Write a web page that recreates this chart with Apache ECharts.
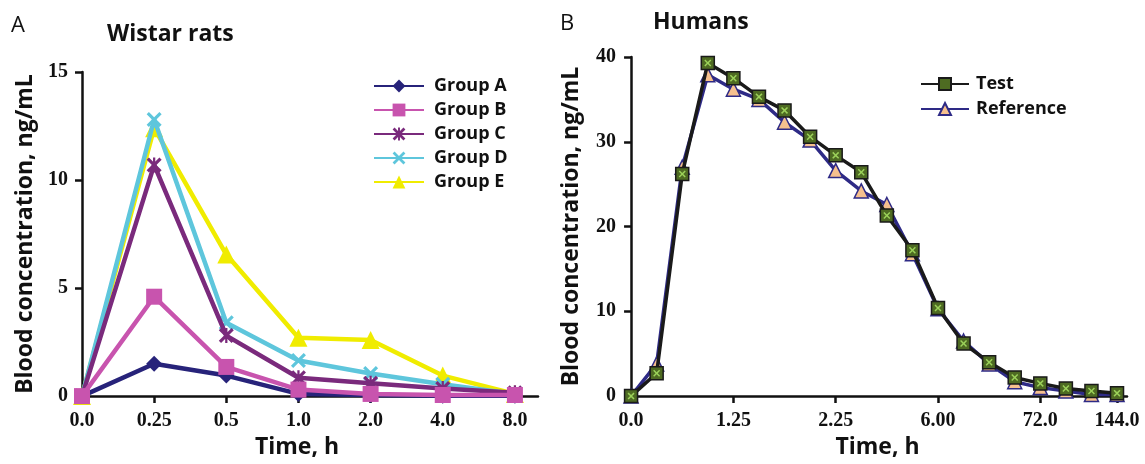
<!DOCTYPE html>
<html><head><meta charset="utf-8">
<script src="https://cdn.jsdelivr.net/npm/echarts@6/dist/echarts.min.js"></script>
<style>html,body{margin:0;padding:0;background:#fff}#c{width:1145px;height:464px}</style>
</head><body><div id="c"></div>
<script>
// ---- Panel A data (Wistar rats) ----
const ratTimeLabels = ['0.0','0.25','0.5','1.0','2.0','4.0','8.0'];
const groupA = [0, 1.5, 0.95, 0.1, 0.05, 0.02, 0.02];
const groupB = [0, 4.6, 1.35, 0.3, 0.1, 0.05, 0.05];
const groupC = [0, 10.7, 2.8, 0.85, 0.6, 0.35, 0.15];
const groupD = [0, 12.8, 3.4, 1.65, 1.05, 0.55, 0.1];
const groupE = [0, 12.4, 6.55, 2.7, 2.6, 0.95, 0.1];
// ---- Panel B data (Humans) ----
const humanTickIndex = [0, 4, 8, 12, 16, 19];
const humanTickLabels = ['0.0','1.25','2.25','6.00','72.0','144.0'];
const testConc = [0, 2.7, 26.2, 39.3, 37.5, 35.3, 33.7, 30.6, 28.4, 26.4, 21.3, 17.2, 10.4, 6.2, 4.0, 2.2, 1.5, 0.9, 0.6, 0.35];
const refConc  = [0, 3.8, 27.0, 37.9, 36.2, 35.0, 32.3, 30.2, 26.6, 24.2, 22.6, 16.8, 10.3, 6.5, 3.8, 1.7, 1.0, 0.6, 0.2, 0.2];

const idx = a => a.map((v, i) => [i, v]);
const FONT = '"Open Sans", "Noto Sans", sans-serif';
const NUMFONT = '"Liberation Serif", "DejaVu Serif", serif';
const X_PATH = 'path://M0,3 L3,0 L10,7 L17,0 L20,3 L13,10 L20,17 L17,20 L10,13 L3,20 L0,17 L7,10 Z';
const AST_PATH = 'path://M0,3 L3,0 L10,7 L17,0 L20,3 L13,10 L20,17 L17,20 L10,13 L3,20 L0,17 L7,10 Z M8.5,0 L11.5,0 L11.5,20 L8.5,20 Z';

const axisLine = {show: true, lineStyle: {color: '#111', width: 2.5}};
const axisTick = {show: true, inside: false, length: 7, lineStyle: {color: '#111', width: 2.5}};
const lblStyle = {color: '#111', fontFamily: NUMFONT, fontWeight: 'bold', fontSize: 20};
const nameStyle = {color: '#111', fontFamily: FONT, fontWeight: 'bold', fontSize: 23};

const ratSeries = (name, data, color, symbol, size, z) => ({
  name, type: 'line', xAxisIndex: 0, yAxisIndex: 0, data: idx(data),
  symbol, symbolSize: size, z,
  lineStyle: {color, width: 4.5}, itemStyle: {color},
});

const chart = echarts.init(document.getElementById('c'));
chart.setOption({
  animation: false,
  backgroundColor: '#fff',
  title: [
    {text: 'A', left: 11, top: 15, padding: 0, textStyle: {fontFamily: FONT, fontWeight: 'normal', fontSize: 22, color: '#111'}},
    {text: 'Wistar rats', left: 107, top: 23, padding: 0, textStyle: {fontFamily: FONT, fontWeight: 'bold', fontSize: 23, color: '#111'}},
    {text: 'B', left: 560, top: 13, padding: 0, textStyle: {fontFamily: FONT, fontWeight: 'normal', fontSize: 22, color: '#111'}},
    {text: 'Humans', left: 653, top: 11, padding: 0, textStyle: {fontFamily: FONT, fontWeight: 'bold', fontSize: 23, color: '#111'}}
  ],
  legend: [
    {data: ['Group A','Group B','Group C','Group D','Group E'], orient: 'vertical', left: 373, top: 76, padding: 0,
     itemWidth: 50, itemHeight: 16, itemGap: 4,
     textStyle: {fontFamily: FONT, fontWeight: 'bold', fontSize: 18, lineHeight: 20, color: '#111', padding: [0, 0, 0, 5]}},
    {data: ['Test','Reference'], orient: 'vertical', left: 920, top: 74, padding: 0,
     itemWidth: 48, itemHeight: 15, itemGap: 5,
     textStyle: {fontFamily: FONT, fontWeight: 'bold', fontSize: 18, lineHeight: 20, color: '#111', padding: [0, 0, 0, 2]}}
  ],
  grid: [
    {left: 82, top: 72, width: 456, height: 331},
    {left: 628, top: 57, width: 499, height: 345}
  ],
  xAxis: [
    {type: 'value', gridIndex: 0, min: 0, max: 6.32, splitLine: {show: false},
     name: 'Time, h', nameLocation: 'middle', nameGap: 36,
     nameTextStyle: Object.assign({padding: [0, 26, 0, 0]}, nameStyle),
     axisLine, axisTick: Object.assign({customValues: [0,1,2,3,4,5,6]}, axisTick),
     axisLabel: Object.assign({customValues: [0,1,2,3,4,5,6], margin: 15,
       formatter: v => ratTimeLabels[Math.round(v)]}, lblStyle)},
    {type: 'value', gridIndex: 1, min: -0.12, max: 19.39, splitLine: {show: false},
     name: 'Time, h', nameLocation: 'middle', nameGap: 35, nameTextStyle: nameStyle,
     axisLine, axisTick: Object.assign({customValues: humanTickIndex}, axisTick),
     axisLabel: Object.assign({customValues: humanTickIndex, margin: 15,
       formatter: v => humanTickLabels[humanTickIndex.indexOf(Math.round(v))]}, lblStyle)}
  ],
  yAxis: [
    {type: 'value', gridIndex: 0, min: 0, max: 15, interval: 5, splitLine: {show: false},
     name: 'Blood concentration, ng/mL', nameLocation: 'middle', nameGap: 45, nameTextStyle: nameStyle,
     axisLine, axisTick, axisLabel: Object.assign({margin: 14}, lblStyle)},
    {type: 'value', gridIndex: 1, min: 0, max: 40, interval: 10, splitLine: {show: false},
     name: 'Blood concentration, ng/mL', nameLocation: 'middle', nameGap: 45, nameTextStyle: nameStyle,
     axisLine, axisTick, axisLabel: Object.assign({margin: 12}, lblStyle)}
  ],
  series: [
    ratSeries('Group E', groupE, '#F0EC00', 'triangle', 18, 2),
    ratSeries('Group D', groupD, '#5EC6DC', X_PATH, 15, 3),
    ratSeries('Group C', groupC, '#7A2A7C', AST_PATH, 15, 4),
    ratSeries('Group A', groupA, '#27237A', 'diamond', 16, 5),
    ratSeries('Group B', groupB, '#C854AE', 'rect', 16, 6),
    {name: 'Reference', type: 'line', xAxisIndex: 1, yAxisIndex: 1, data: idx(refConc),
     symbol: 'triangle', symbolSize: 14, z: 3,
     lineStyle: {color: '#2E2A86', width: 3.5},
     itemStyle: {color: '#F6C08E', borderColor: '#2E2A86', borderWidth: 1.5}},
    {name: 'Test', type: 'line', xAxisIndex: 1, yAxisIndex: 1, data: idx(testConc),
     symbol: 'rect', symbolSize: 13, z: 4,
     lineStyle: {color: '#1A1A1A', width: 3.5},
     itemStyle: {color: '#4E6B22', borderColor: '#1A1A1A', borderWidth: 1.5}},
    {name: 'TestMark', type: 'line', xAxisIndex: 1, yAxisIndex: 1, data: idx(testConc),
     symbol: X_PATH, symbolSize: 7, z: 5, silent: true,
     lineStyle: {width: 0, opacity: 0},
     itemStyle: {color: '#9CD25A'}}
  ]
});
</script></body></html>
